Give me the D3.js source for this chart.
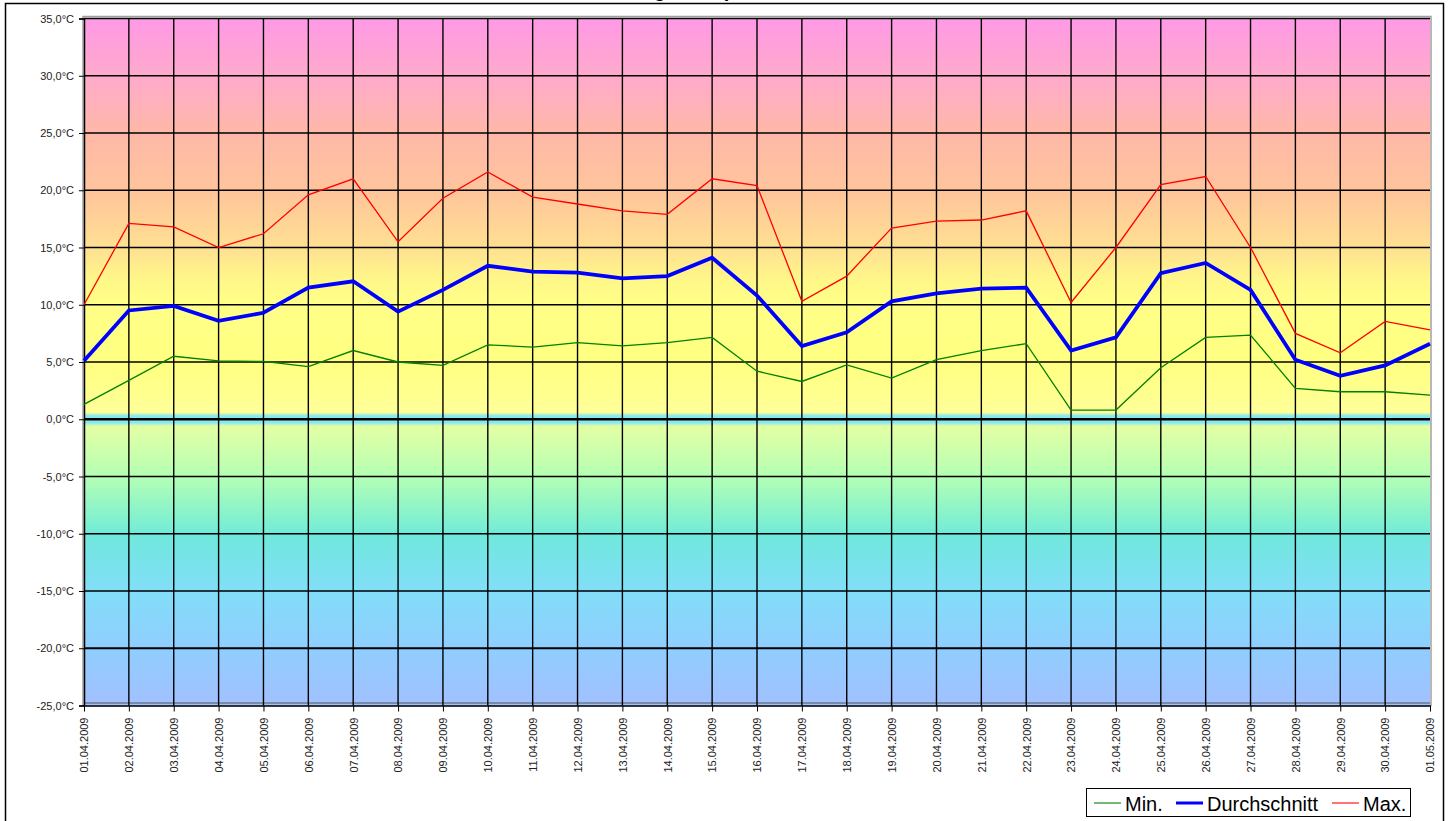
<!DOCTYPE html>
<html>
  <head>
    <meta charset="utf-8" />
    <title>Temperaturen April 2009</title>
    <script src="https://d3js.org/d3.v7.min.js"></script>
    <style>
      body { margin: 0; background: white; }
      text { font-family: "Liberation Sans", Arial, sans-serif; }
    </style>
  </head>
  <body>
    <svg id="chart" width="1452" height="821"></svg>
    <script>
    var dates = ["01.04.2009","02.04.2009","03.04.2009","04.04.2009","05.04.2009","06.04.2009",
      "07.04.2009","08.04.2009","09.04.2009","10.04.2009","11.04.2009","12.04.2009","13.04.2009",
      "14.04.2009","15.04.2009","16.04.2009","17.04.2009","18.04.2009","19.04.2009","20.04.2009",
      "21.04.2009","22.04.2009","23.04.2009","24.04.2009","25.04.2009","26.04.2009","27.04.2009",
      "28.04.2009","29.04.2009","30.04.2009","01.05.2009"];

    var minVals = [1.3, 3.4, 5.5, 5.1, 5.05, 4.6, 6.0, 5.0, 4.7, 6.5, 6.3, 6.7, 6.4, 6.7, 7.15, 4.2,
      3.3, 4.75, 3.6, 5.2, 6.0, 6.6, 0.8, 0.8, 4.5, 7.15, 7.35, 2.7, 2.4, 2.4, 2.1];

    var avgVals = [5.1, 9.5, 9.9, 8.6, 9.3, 11.5, 12.05, 9.4, 11.3, 13.4, 12.9, 12.8, 12.3, 12.5, 14.1,
      10.8, 6.4, 7.6, 10.3, 11.0, 11.4, 11.5, 6.0, 7.15, 12.75, 13.65, 11.3, 5.2, 3.8, 4.7, 6.6];

    var maxVals = [10.0, 17.1, 16.8, 15.0, 16.2, 19.6, 21.0, 15.5, 19.3, 21.6, 19.4, 18.8, 18.2, 17.9,
      21.0, 20.4, 10.3, 12.5, 16.7, 17.3, 17.4, 18.2, 10.2, 15.0, 20.5, 21.2, 15.0, 7.5, 5.8, 8.55, 7.8];

    var yTicks = [-25, -20, -15, -10, -5, 0, 5, 10, 15, 20, 25, 30, 35];

    var seriesNames = ["Min.", "Durchschnitt", "Max."];
    var seriesColors = ["#008000", "#0000ff", "#ff0000"];

    var svg = d3.select("#chart");

    var plotLeft = 84, plotRight = 1430, plotTop = 18.5, plotBottom = 705.5;

    var x = d3.scalePoint().domain(dates).range([plotLeft, plotRight]);
    var y = d3.scaleLinear().domain([-25, 35]).range([plotBottom, plotTop]);

    // outer frame
    svg.append("rect")
      .attr("x", 5.5).attr("y", 3.5)
      .attr("width", 1438).attr("height", 830)
      .attr("fill", "white").attr("stroke", "black").attr("stroke-width", 1.5);

    // title sits above the visible area, only descenders show
    svg.append("text")
      .attr("x", 724).attr("y", -3.5)
      .attr("text-anchor", "middle")
      .attr("font-size", 20).attr("font-weight", "bold")
      .text("Tagestemperaturen");

    // background gradient
    var stops = [
      [35, "#ff99e6"], [30, "#ffaacc"], [25, "#ffb8a8"], [20, "#ffc49c"], [15, "#ffe092"],
      [12, "#fff888"], [10, "#ffff88"], [5, "#ffff80"], [0.6, "#ffff98"], [0.3, "#88e8f0"],
      [-0.3, "#88e8f0"], [-0.6, "#e4ffa4"], [-5, "#b4ffb4"], [-9.5, "#78eed4"], [-10, "#70e8dc"],
      [-15, "#82def8"], [-20, "#90ceff"], [-25, "#a2c0ff"]
    ];
    var defs = svg.append("defs");
    var grad = defs.append("linearGradient")
      .attr("id", "bg")
      .attr("gradientUnits", "userSpaceOnUse")
      .attr("x1", 0).attr("x2", 0)
      .attr("y1", y(35)).attr("y2", y(-25));
    grad.selectAll("stop").data(stops).enter().append("stop")
      .attr("offset", function(d) { return (y(d[0]) - y(35)) / (y(-25) - y(35)); })
      .attr("stop-color", function(d) { return d[1]; });

    // plot frame shadow
    svg.append("rect")
      .attr("x", plotLeft - 1).attr("y", plotTop - 2)
      .attr("width", plotRight - plotLeft + 2).attr("height", plotBottom - plotTop + 2)
      .attr("fill", "none").attr("stroke", "#a0a0a0").attr("stroke-width", 1.5);

    svg.append("rect")
      .attr("x", plotLeft).attr("y", plotTop)
      .attr("width", plotRight - plotLeft).attr("height", plotBottom - plotTop)
      .attr("fill", "url(#bg)");

    // band near bottom
    svg.append("line")
      .attr("x1", plotLeft).attr("x2", plotRight)
      .attr("y1", plotBottom - 2.5).attr("y2", plotBottom - 2.5)
      .attr("stroke", "#6a7890").attr("stroke-width", 1.5);

    // grid
    svg.append("g").selectAll("line").data(yTicks.filter(function(d) { return d > -25; }))
      .enter().append("line")
      .attr("x1", plotLeft).attr("x2", plotRight)
      .attr("y1", function(d) { return y(d); })
      .attr("y2", function(d) { return y(d); })
      .attr("stroke", "black")
      .attr("stroke-width", function(d) { return d == 0 ? 2.6 : (d == -20 ? 2.2 : 1.5); });

    svg.append("g").selectAll("line").data(dates.slice(1, -1))
      .enter().append("line")
      .attr("x1", function(d) { return x(d); })
      .attr("x2", function(d) { return x(d); })
      .attr("y1", plotTop).attr("y2", plotBottom)
      .attr("stroke", "black").attr("stroke-width", 1.4);

    // axes
    var yAxis = svg.append("g")
      .attr("transform", "translate(" + plotLeft + ",0)")
      .call(d3.axisLeft(y).tickValues(yTicks).tickSize(5).tickPadding(5)
        .tickFormat(function(d) {
          return d3.format(".1f")(d).replace("−", "-").replace(".", ",") + "°C";
        }));
    yAxis.selectAll("text").attr("font-size", 11).attr("fill", "#222")
      .style("font-family", "'Liberation Sans', Arial, sans-serif");
    yAxis.select(".domain").attr("stroke-width", 1.5);

    var xAxis = svg.append("g")
      .attr("transform", "translate(0," + plotBottom + ")")
      .call(d3.axisBottom(x).tickSize(6).tickSizeOuter(0));
    xAxis.select(".domain").attr("stroke-width", 1.5);
    xAxis.selectAll("text")
      .attr("font-size", 11).attr("fill", "#222")
      .style("font-family", "'Liberation Sans', Arial, sans-serif")
      .attr("transform", "rotate(-90)")
      .attr("text-anchor", "end")
      .attr("dy", "0.35em")
      .attr("x", -12).attr("y", 0);

    // lines
    var allSeries = [minVals, avgVals, maxVals];
    var widths = [1.3, 3.8, 1.3];
    var line = d3.line()
      .x(function(d, i) { return x(dates[i]); })
      .y(function(d) { return y(d); });

    svg.append("g").selectAll("path").data(allSeries).enter().append("path")
      .attr("d", function(d) { return line(d); })
      .attr("fill", "none")
      .attr("stroke", function(d, i) { return seriesColors[i]; })
      .attr("stroke-width", function(d, i) { return widths[i]; })
      .attr("stroke-linejoin", "miter");

    // legend
    var legend = svg.append("g");
    legend.append("rect")
      .attr("x", 1086.5).attr("y", 788.5)
      .attr("width", 324).attr("height", 28)
      .attr("fill", "white").attr("stroke", "black").attr("stroke-width", 1);

    var legX = [1094, 1176, 1332];
    var legItems = legend.selectAll("g.item").data(seriesNames).enter().append("g");
    legItems.append("line")
      .attr("x1", function(d, i) { return legX[i]; })
      .attr("x2", function(d, i) { return legX[i] + 27; })
      .attr("y1", 803).attr("y2", 803)
      .attr("stroke", function(d, i) { return seriesColors[i]; })
      .attr("stroke-opacity", function(d, i) { return i == 1 ? 1 : 0.55; })
      .attr("stroke-width", function(d, i) { return i == 1 ? 3 : 2; });
    legItems.append("text")
      .attr("x", function(d, i) { return legX[i] + 31; })
      .attr("y", 810.5)
      .attr("font-size", 20)
      .text(function(d) { return d; });
    </script>
  </body>
</html>
